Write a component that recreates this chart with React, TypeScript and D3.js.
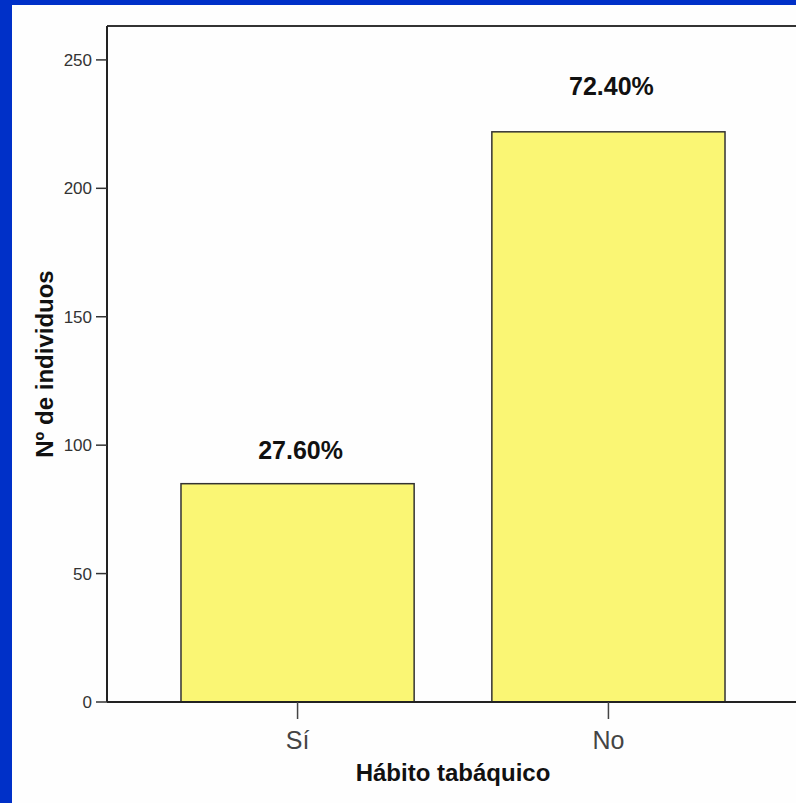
import React from "react";
import * as d3 from "d3";

const categories = ["Sí", "No"];
const counts = [85, 222];
const percentLabels = ["27.60%", "72.40%"];
const labelValues = [94.6, 236.2];
const yTicks = [0, 50, 100, 150, 200, 250];
const xTitle = "Hábito tabáquico";
const yTitle = "Nº de individuos";

const W = 796;
const H = 803;
const FONT = "'Liberation Sans', Arial, sans-serif";

export default function App() {
  const left = 107;
  const top = 26;
  const bottom = 702;
  const right = 799;

  const x = d3
    .scaleBand<string>()
    .domain(categories)
    .range([left, right])
    .paddingInner(0.25)
    .paddingOuter(0.238);
  const y = d3.scaleLinear().domain([0, 263.2]).range([bottom, top]);

  return (
    <div style={{ position: "fixed", left: 0, top: 0, width: W, height: H }}>
      <svg width={W} height={H} style={{ display: "block" }}>
        <rect x={0} y={0} width={W} height={H} fill="#0030C8" />
        <rect x={12} y={5} width={W - 12} height={H - 5} fill="#FEFEFE" />
        {/* frame */}
        <line x1={left} x2={W} y1={top} y2={top} stroke="#333" strokeWidth={2} />
        <line x1={left} x2={left} y1={top} y2={bottom} stroke="#222" strokeWidth={2} />
        {/* bars */}
        {categories.map((c, i) => (
          <rect
            key={c}
            x={x(c)!}
            y={y(counts[i])}
            width={x.bandwidth()}
            height={bottom - y(counts[i])}
            fill="#FAF674"
            stroke="#333"
            strokeWidth={1.5}
          />
        ))}
        <line x1={left} x2={W} y1={bottom} y2={bottom} stroke="#222" strokeWidth={2} />
        {/* y ticks */}
        {yTicks.map((t) => (
          <g key={t}>
            <line x1={left - 11} x2={left} y1={y(t)} y2={y(t)} stroke="#333" strokeWidth={1.5} />
            <text
              x={left - 15}
              y={y(t)}
              dy="0.35em"
              textAnchor="end"
              fontFamily={FONT}
              fontSize={17}
              fill="#333"
            >
              {t}
            </text>
          </g>
        ))}
        {/* x ticks */}
        {categories.map((c) => {
          const cx = x(c)! + x.bandwidth() / 2;
          return (
            <g key={c}>
              <line x1={cx} x2={cx} y1={bottom} y2={bottom + 17} stroke="#444" strokeWidth={1.5} />
              <text
                x={cx}
                y={749}
                textAnchor="middle"
                fontFamily={FONT}
                fontSize={25}
                fill="#444"
              >
                {c}
              </text>
            </g>
          );
        })}
        {/* percent labels */}
        {categories.map((c, i) => (
          <text
            key={c}
            x={x(c)! + x.bandwidth() / 2 + 3}
            y={y(labelValues[i])}
            textAnchor="middle"
            fontFamily={FONT}
            fontSize={25}
            fontWeight="bold"
            fill="#111"
          >
            {percentLabels[i]}
          </text>
        ))}
        {/* axis titles */}
        <text
          x={(left + right) / 2}
          y={781}
          textAnchor="middle"
          fontFamily={FONT}
          fontSize={24}
          fontWeight="bold"
          fill="#111"
        >
          {xTitle}
        </text>
        <text
          transform={`translate(53, ${(top + bottom) / 2}) rotate(-90)`}
          textAnchor="middle"
          fontFamily={FONT}
          fontSize={24}
          fontWeight="bold"
          fill="#111"
        >
          {yTitle}
        </text>
      </svg>
    </div>
  );
}
